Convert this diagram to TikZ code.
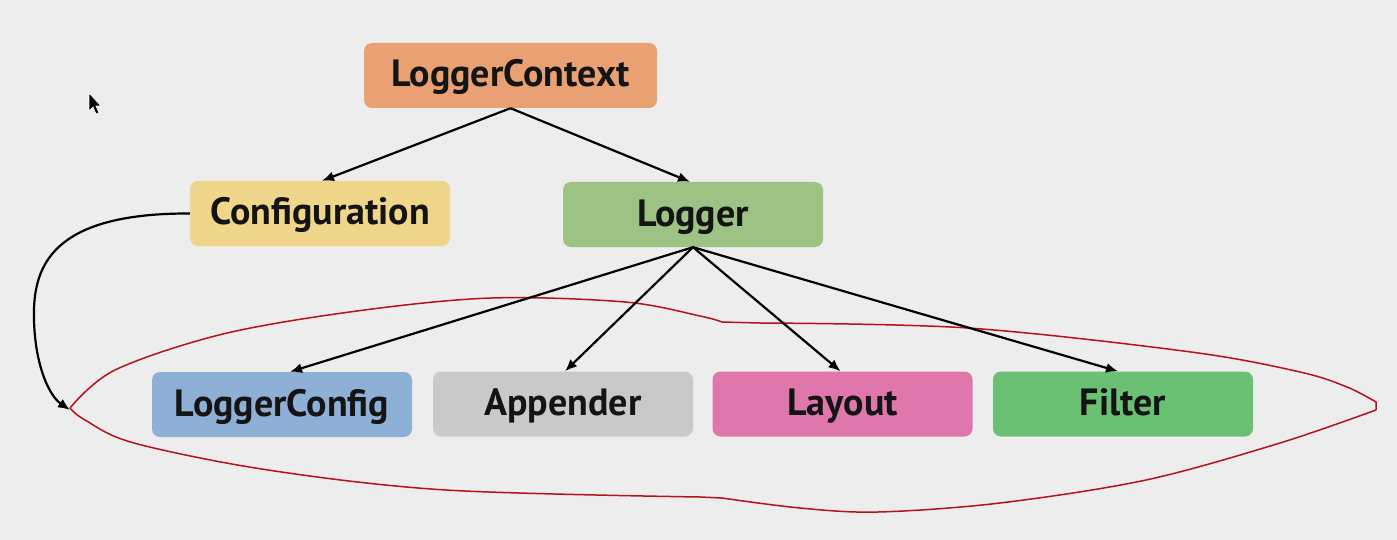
\documentclass[tikz,border=0pt]{standalone}
\usepackage{fontspec}
\setmainfont{PT Sans}
\usetikzlibrary{arrows.meta}
\definecolor{bg}{HTML}{EDEDED}
\definecolor{cctx}{HTML}{E9A073}
\definecolor{cconf}{HTML}{F0D68A}
\definecolor{clog}{HTML}{9DC384}
\definecolor{clc}{HTML}{8EAFD6}
\definecolor{capp}{HTML}{C9C9C9}
\definecolor{clay}{HTML}{E077AC}
\definecolor{cfil}{HTML}{6AC174}
\definecolor{loop}{HTML}{B5121B}
\definecolor{txt}{HTML}{141414}
\tikzset{
  box/.style={rounded corners=8pt, minimum width=260pt, minimum height=65pt, inner sep=0pt,
    text height=30pt, text depth=7pt,
    font=\fontsize{38}{44}\selectfont\bfseries, text=txt},
  conn/.style={line width=2.2pt, -{Latex[length=12pt,width=10pt]}},
  redloop/.style={draw=loop, line width=1.5pt}
}
\begin{document}
\begin{tikzpicture}[x=1pt,y=-1pt]
\fill[bg] (0,0) rectangle (1397,540);
\useasboundingbox (0,0) rectangle (1397,540);
% cursor
\filldraw[fill=black, draw=white, line width=0.6pt] (89,93) -- (89,111) -- (93,107) -- (96,114) -- (99,113) -- (96,106) -- (101,106) -- cycle;
% nodes
\node[box, fill=cctx, minimum width=293pt] (ctx) at (510.5,75.5) {LoggerContext};
\node[box, fill=cconf] (conf) at (320,213.5) {Configuration};
\node[box, fill=clog] (log) at (693,214.5) {Logger};
\node[box, fill=clc] (lc) at (282,404.5) {LoggerConfig};
\node[box, fill=capp] (app) at (563,404) {Appender};
\node[box, fill=clay] (lay) at (842.5,404) {Layout};
\node[box, fill=cfil] (fil) at (1123,404) {Filter};
% red loop
\draw[redloop] plot[smooth, tension=0.55] coordinates {(70,408) (115,370) (223,334) (357,311) (491,298) (625,302) (700,316) (722,322)}
  -- (760,323) plot[smooth, tension=0.55] coordinates {(760,323) (968,328) (1191,352) (1300,372) (1347,387) (1376,402)}
  -- (1376,410) plot[smooth, tension=0.55] coordinates {(1376,410) (1280,443) (1146,480) (1000,503) (878,512) (800,508) (722,498)}
  -- (700,497) plot[smooth, tension=0.55] coordinates {(700,497) (446,490) (268,470) (134,443) (85,420) (70,408)};
% connectors
\coordinate (tip) at (70,410);
\draw[conn] (ctx.south) -- ([xshift=2pt]conf.north);
\draw[conn] (ctx.south) -- ([xshift=-3pt]log.north);
\draw[conn] (log.south) -- ([xshift=8pt]lc.north);
\draw[conn] (log.south) -- ([xshift=2pt]app.north);
\draw[conn] (log.south) -- ([xshift=-2pt]lay.north);
\draw[conn] (log.south) -- ([xshift=-5pt]fil.north);
\draw[conn] (conf.west) .. controls (60,213) and (35,260) .. (34,310) .. controls (33,360) and (48,395) .. (tip);
\end{tikzpicture}
\end{document}
